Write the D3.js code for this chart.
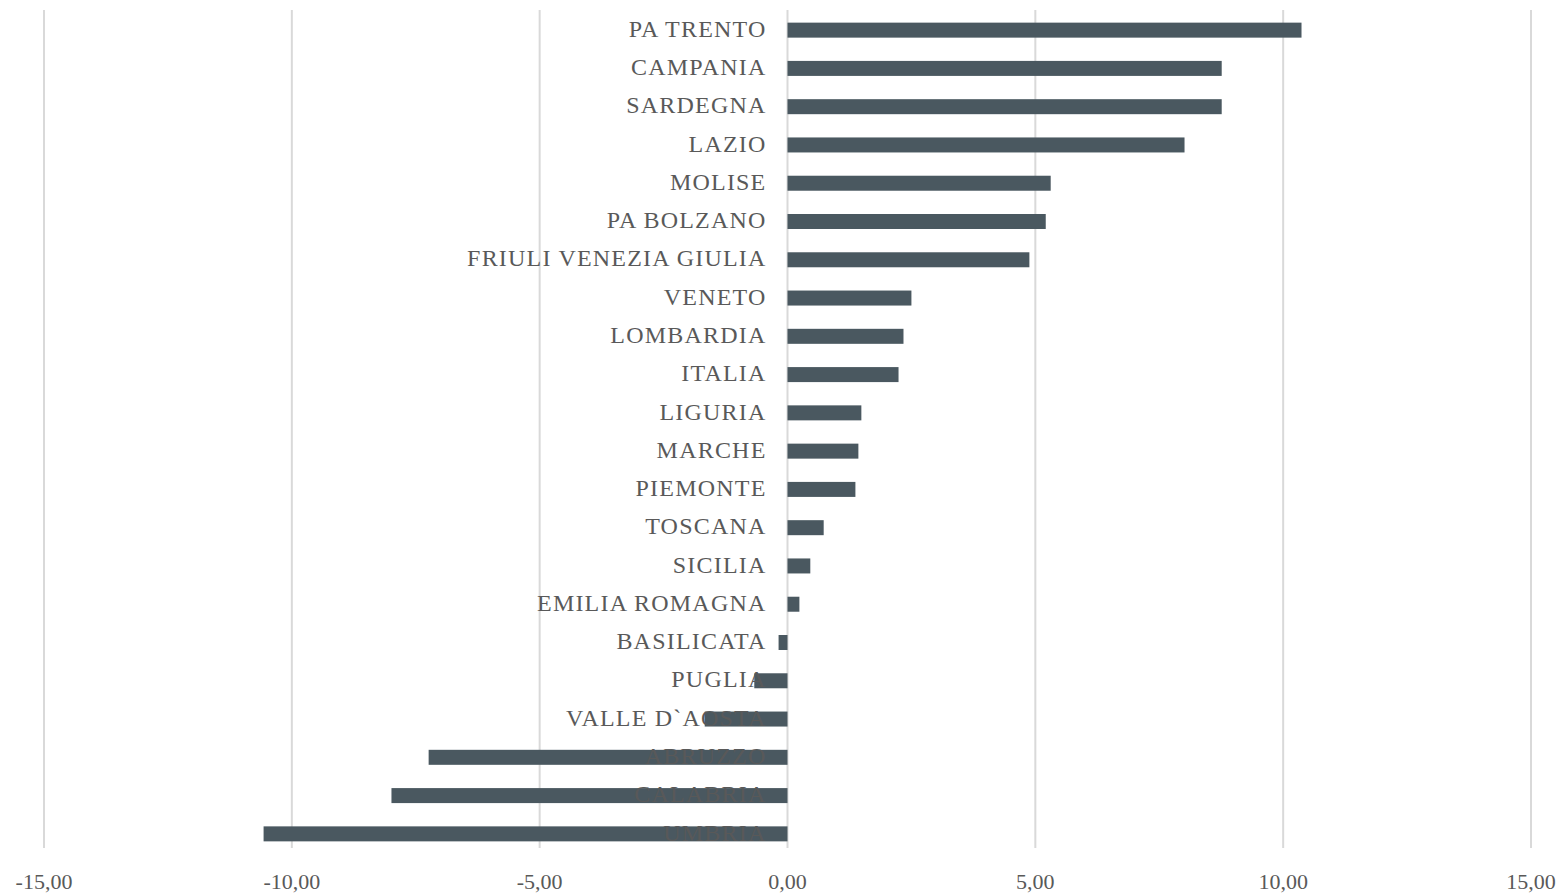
<!DOCTYPE html>
<html>
<head>
<meta charset="utf-8">
<script src="https://cdn.jsdelivr.net/npm/d3@7"></script>
<style>
  body { margin: 0; background: #fff; }
  svg { display: block; }
  text { font-family: "Liberation Serif", "Times New Roman", serif; fill: #595959; }
</style>
</head>
<body>
<svg width="1561" height="893"></svg>
<script>
// regions, top to bottom
var regions = ["PA TRENTO", "CAMPANIA", "SARDEGNA", "LAZIO", "MOLISE", "PA BOLZANO",
    "FRIULI VENEZIA GIULIA", "VENETO", "LOMBARDIA", "ITALIA", "LIGURIA", "MARCHE",
    "PIEMONTE", "TOSCANA", "SICILIA", "EMILIA ROMAGNA", "BASILICATA", "PUGLIA",
    "VALLE D`AOSTA", "ABRUZZO", "CALABRIA", "UMBRIA"];
var values = [10.37, 8.76, 8.76, 8.01, 5.31, 5.21, 4.88, 2.50, 2.34, 2.24, 1.49, 1.43,
    1.37, 0.73, 0.46, 0.24, -0.18, -0.67, -1.67, -7.24, -7.99, -10.57];
var ticks = [-15, -10, -5, 0, 5, 10, 15];

var svg = d3.select("svg");
var x = d3.scaleLinear().domain([-15, 15]).range([44, 1531]);
var y = d3.scaleBand().domain(regions).range([11, 853]).paddingInner(0.6).paddingOuter(0.3);

var fmt = (d) => d3.format(".2f")(d).replace(".", ",").replace("−", "-");

// gridlines
svg.append("g")
    .attr("class", "grid")
    .selectAll("line")
    .data(ticks)
    .enter()
    .append("line")
    .attr("x1", (d) => x(d))
    .attr("x2", (d) => x(d))
    .attr("y1", 10)
    .attr("y2", 848)
    .attr("stroke", "#d9d9d9")
    .attr("stroke-width", 2);

// bars
svg.append("g")
    .selectAll("rect")
    .data(values)
    .enter()
    .append("rect")
    .attr("x", (d) => x(Math.min(0, d)))
    .attr("width", (d) => Math.abs(x(d) - x(0)))
    .attr("y", (d, i) => y(regions[i]) + y.bandwidth() / 2 - 7.5)
    .attr("height", 15)
    .attr("fill", "#4a5860");

// category labels (drawn over the bars)
svg.append("g")
    .selectAll("text")
    .data(regions)
    .enter()
    .append("text")
    .attr("x", x(0) - 21)
    .attr("y", (d) => y(d) + y.bandwidth() / 2)
    .attr("dy", "0.28em")
    .attr("text-anchor", "end")
    .style("font-size", "24px")
    .style("letter-spacing", "1.2px")
    .text((d) => d);

// x axis tick labels
svg.append("g")
    .selectAll("text")
    .data(ticks)
    .enter()
    .append("text")
    .attr("x", (d) => x(d))
    .attr("y", 889)
    .attr("text-anchor", "middle")
    .style("font-size", "22px")
    .text(fmt);
</script>
</body>
</html>
